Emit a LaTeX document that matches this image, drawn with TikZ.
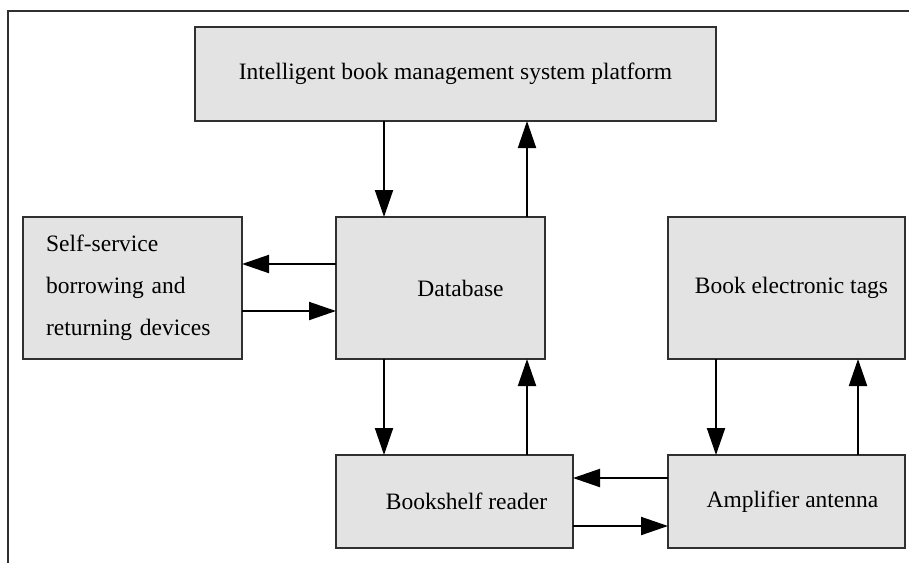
\documentclass[tikz,border=0pt]{standalone}
\usepackage{fontspec}
\setmainfont{Liberation Serif}
\usetikzlibrary{positioning, arrows.meta}

\definecolor{boxfill}{HTML}{E3E3E3}
\definecolor{boxline}{HTML}{303030}
\definecolor{frameline}{HTML}{303030}

\tikzset{
    blockbox/.style = {draw = boxline, fill = boxfill, line width = 2.4pt, rectangle, inner sep = 0pt, outer sep = 0pt, font = \fontsize{23.5}{28}\selectfont},
    flowarrow/.style = {draw = black, line width = 2pt, -{Triangle[length = 27pt, width = 18pt]}}
}

\begin{document}
\begin{tikzpicture}[x = 1pt, y = -1pt]
        \useasboundingbox (0, 0) rectangle (909, 563) ;
        \draw [line width = 1.6pt, frameline] (8, 563) -- (8, 11) -- (909, 11) ;

        \node [blockbox, minimum width = 209pt, minimum height = 142pt] (database) at (440.5, 288) {\hspace*{40pt}Database} ;
        \node [blockbox, minimum width = 219pt, minimum height = 142pt, left = 94pt of database, align = left, text width = 173pt, font = \fontsize{23.5}{42}\selectfont] (selfservice) {Self-service\\borrowing and\\returning devices} ;
        \node [blockbox, minimum width = 237pt, minimum height = 142pt, right = 123pt of database] (tags) {\hspace*{10pt}Book electronic tags} ;
        \node [blockbox, minimum width = 521pt, minimum height = 94pt, above = 96pt of database, xshift = 15pt] (platform) {Intelligent book management system platform} ;
        \node [blockbox, minimum width = 237pt, minimum height = 93pt, below = 96pt of database.south west, anchor = north west] (shelf) {\hspace*{24pt}Bookshelf reader} ;
        \node [blockbox, minimum width = 237pt, minimum height = 93pt, right = 95pt of shelf] (antenna) {\hspace*{12pt}Amplifier antenna} ;

        % where the vertical and horizontal links run
        \coordinate (dbdown) at ([xshift = 48pt]database.north west) ;
        \coordinate (dbup) at ([xshift = -18pt]database.north east) ;
        \coordinate (dbout) at ([yshift = -47pt]database.north west) ;
        \coordinate (dbin) at ([yshift = 48pt]database.south west) ;
        \coordinate (tagdown) at ([xshift = 48pt]tags.south west) ;
        \coordinate (tagup) at ([xshift = -47pt]tags.south east) ;
        \coordinate (antout) at ([yshift = -23pt]antenna.north west) ;
        \coordinate (antin) at ([yshift = 22pt]antenna.south west) ;

        \draw [flowarrow] (platform.south -| dbdown) -- (database.north -| dbdown) ;
        \draw [flowarrow] (database.north -| dbup) -- (platform.south -| dbup) ;
        \draw [flowarrow] (database.west |- dbout) -- (selfservice.east |- dbout) ;
        \draw [flowarrow] (selfservice.east |- dbin) -- (database.west |- dbin) ;
        \draw [flowarrow] (database.south -| dbdown) -- (shelf.north -| dbdown) ;
        \draw [flowarrow] (shelf.north -| dbup) -- (database.south -| dbup) ;
        \draw [flowarrow] (tags.south -| tagdown) -- (antenna.north -| tagdown) ;
        \draw [flowarrow] (antenna.north -| tagup) -- (tags.south -| tagup) ;
        \draw [flowarrow] (antenna.west |- antout) -- (shelf.east |- antout) ;
        \draw [flowarrow] (shelf.east |- antin) -- (antenna.west |- antin) ;
\end{tikzpicture}
\end{document}
